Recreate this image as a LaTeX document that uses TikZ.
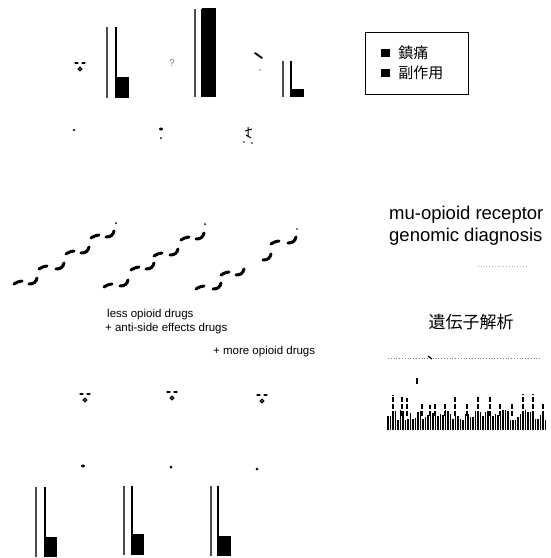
\documentclass[tikz,border=0pt]{standalone}
\usepackage{fontspec}
\setmainfont{Liberation Sans}
\newfontfamily\jpfont{Noto Sans CJK JP}
\usetikzlibrary{positioning}
\usetikzlibrary{shapes.geometric}

\begin{document}
\begin{tikzpicture}[x=1pt, y=-1pt,
		edge/.style={line width=2pt},
		print/.style={line width=3pt, line cap=round},
		blob/.style={fill=black, ellipse, inner sep=0pt},
		small/.style={font=\fontsize{11.5}{13}\selectfont, inner sep=0pt, anchor=west},
		big/.style={font=\fontsize{18.5}{20}\selectfont, inner sep=0pt, anchor=west},
		key/.style={fill=black, minimum width=9pt, minimum height=8pt, inner sep=0pt},
		keytext/.style={font=\jpfont\fontsize{15}{17}\selectfont, inner sep=0pt},
		lfoot/.pic={\draw[print] (-4,1) .. controls (-1,-1) and (2,-2) .. (4,-2);},
		rfoot/.pic={\draw[print] (-4,2) .. controls (1,2) and (3,0) .. (4,-4);},
		face/.pic={
			\draw[line width=1.2pt, line cap=round] (-5,-3) -- (-2,-3) (2,-3) -- (5,-3);
			\draw[line width=1.2pt] (0,3) circle (1.8);
		}]

		\useasboundingbox (0,0) rectangle (550,558);

		\foreach \xa/\xb/\xc/\ya/\yb/\yc in {107/116/129/27/77/98, 195/202/216/9/8/97, 283/291/304/61/89/97, 36/45/57/487/537/557, 124/132/144/486/534/555, 211/218/231/486/536/556}{
			\draw[edge, black!70] (\xa,\yc) -- (\xa,\ya);
			\draw[edge] (\xb,\yc) -- (\xb,\ya);
			\fill (\xb,\yb) rectangle (\xc,\yc);
		}

		\pic at (80,66) {face};
		\pic at (85,397) {face};
		\pic at (172,395) {face};
		\pic at (262,398) {face};

		\node[gray, font=\fontsize{10}{11}\selectfont] (quest) at (172,63) {?};
		\draw[line width=1.8pt, line cap=round] (255,53) -- (262,58);
		\fill[gray] (260,70) circle (0.8);

		\node[blob, minimum width=3pt, minimum height=2pt] (pa) at (74,130) {};
		\node[blob, minimum width=4pt, minimum height=3pt] (pb) at (161,129) {};
		\node[blob, minimum width=2pt, minimum height=2pt] (pc) at (161,138) {};
		\draw[line width=1pt] (245,131) -- (252,129) (246,135) -- (251,138) (248,127) -- (248,137);
		\fill (244,142) circle (0.8) (252,143) circle (0.8);
		\node[blob, minimum width=4pt, minimum height=3pt] (pd) at (83,466) {};
		\node[blob, minimum width=3pt, minimum height=3pt] (pe) at (171,467) {};
		\node[blob, minimum width=3pt, minimum height=3pt] (pf) at (257,469) {};

		\node[draw, line width=0.8pt, minimum width=103pt, minimum height=62pt] (legend) at (416.5,63) {};
		\node[key] (keya) at (385.5,53) {};
		\node[key] (keyb) at (385.5,73) {};
		\node[keytext, right=8pt of keya] (pain) {鎮痛};
		\node[keytext, right=8pt of keyb] (side) {副作用};

		\foreach \x/\y in {18/283, 43/268, 70/253, 95/237, 108/286, 135/269, 158/255, 185/239, 200/288, 225/274, 275/243}
			\pic at (\x,\y) {lfoot};
		\foreach \x/\y in {33/282, 60/267, 85/251, 110/235, 124/284, 150/267, 174/253, 200/237, 217/287, 240/273, 267/258, 292/241}
			\pic at (\x,\y) {rfoot};
		\fill (116,223) circle (1) (205,224) circle (1) (297,229) circle (0.8);

		\node[small] (less) at (107,315) {less opioid drugs};
		\node[small] (anti) at (105,329) {+ anti-side effects drugs};
		\node[small] (more) at (213,352) {+ more opioid drugs};

		\node[big] (mu) at (389,215) {mu-opioid receptor};
		\node[big] (geno) at (389,237) {genomic diagnosis};
		\draw[gray!60, dotted, line width=0.8pt] (478,266) -- (528,266);

		\node[font=\jpfont\fontsize{17}{19}\selectfont, inner sep=0pt] (gene) at (471,322) {遺伝子解析};

		\draw[gray, dotted, line width=0.8pt] (388,358) -- (540,358);
		\draw[line width=1.2pt] (428,356) -- (432,359);
		\draw[line width=1.6pt] (417,378) -- (417,384);
		\pgfmathsetseed{12}
		\foreach \x in {388,390.5,...,546}{
			\pgfmathsetmacro\h{10+10*rnd}
			\draw[line width=1.3pt] (\x,430) -- (\x,430-\h);
		}
		\foreach \x in {393,402,407,422,430,435,445,455,467,478,490,500,512,523,533,543}{
			\pgfmathsetmacro\h{25+12*rnd}
			\draw[line width=1.1pt, dash pattern=on 5pt off 2pt] (\x,416) -- (\x,430-\h);
		}

	\end{tikzpicture}
\end{document}
